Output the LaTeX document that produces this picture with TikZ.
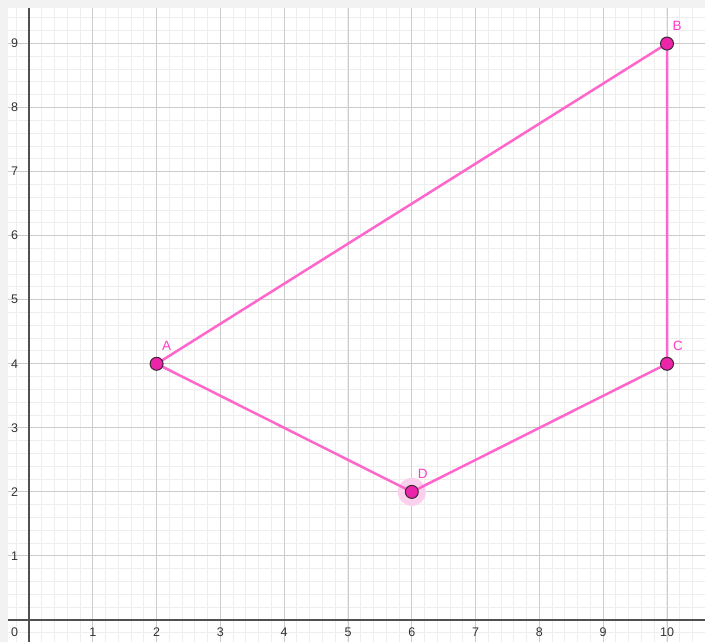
\documentclass[tikz,border=0pt]{standalone}
\usepackage{fontspec}
\setmainfont{Liberation Sans}
\definecolor{seg}{RGB}{255,102,204}
\definecolor{ptfill}{RGB}{236,36,170}
\definecolor{ptline}{RGB}{60,40,50}
\definecolor{lbl}{RGB}{255,60,200}
\definecolor{minorg}{RGB}{238,238,238}
\definecolor{majorg}{RGB}{204,204,204}
\definecolor{axisc}{RGB}{80,80,80}
\definecolor{strip}{RGB}{242,242,242}
\definecolor{halo}{RGB}{250,208,236}
\tikzset{
  pt/.style={circle,draw=ptline,fill=ptfill,line width=1pt,minimum size=13pt,inner sep=0pt},
  ptlabel/.style={text=lbl,font=\fontsize{13.5}{14}\selectfont,inner sep=0pt},
  ticklbl/.style={font=\fontsize{12.5}{13}\selectfont,text=black!80,inner sep=0pt},
  segline/.style={draw=seg,line width=2.5pt}
}
\begin{document}
\begin{tikzpicture}[x=1pt,y=1pt]
\useasboundingbox (0,0) rectangle (705,642);
\fill[strip] (0,0) rectangle (705,642);
\fill[white] (8,0) rectangle (705,634);
\begin{scope}[shift={(29,22)},x=63.8pt,y=64.05pt]
  % minor grid
  \draw[minorg,line width=1pt,step=0.2] (-0.33,-0.343) grid (10.59,9.56);
  % major grid
  \draw[majorg,line width=1pt,step=1] (-0.33,-0.343) grid (10.59,9.56);
  % axes
  \draw[axisc,line width=1.5pt] (-0.33,0) -- (10.59,0);
  \draw[axisc,line width=1.5pt] (0,-0.343) -- (0,9.56);
  % tick labels
  \node[ticklbl] (l0) at (-0.225,-0.19) {0};
  \foreach \i in {1,...,10} {\node[ticklbl] (lx\i) at (\i,-0.19) {\i};}
  \foreach \i in {1,...,9} {\node[ticklbl] (ly\i) at (-0.225,\i) {\i};}
  % points
  \coordinate (Ac) at (2,4);
  \coordinate (Bc) at (10,9);
  \coordinate (Cc) at (10,4);
  \coordinate (Dc) at (6,2);
  \fill[halo] (Dc) circle (14pt);
  \draw[segline] (Ac) -- (Bc) -- (Cc) -- (Dc) -- cycle;
  \node[pt] (A) at (Ac) {};
  \node[pt] (B) at (Bc) {};
  \node[pt] (C) at (Cc) {};
  \node[pt] (D) at (Dc) {};
  \node[ptlabel] (la) at ([shift={(10pt,18pt)}]Ac) {A};
  \node[ptlabel] (lb) at ([shift={(10pt,18pt)}]Bc) {B};
  \node[ptlabel] (lc) at ([shift={(11pt,18pt)}]Cc) {C};
  \node[ptlabel] (ld) at ([shift={(11pt,18pt)}]Dc) {D};
\end{scope}
\end{tikzpicture}
\end{document}
